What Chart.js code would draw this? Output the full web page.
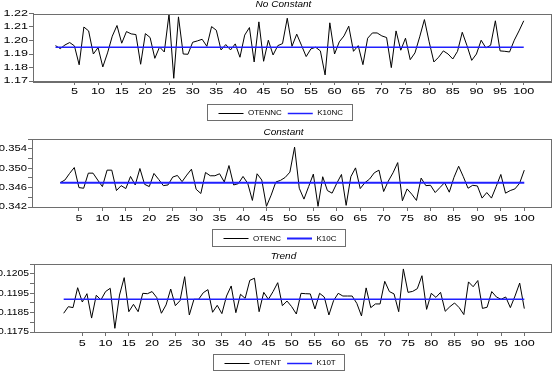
<!DOCTYPE html>
<html>
<head>
<meta charset="utf-8">
<script src="https://cdn.jsdelivr.net/npm/chart.js@4.4.1/dist/chart.umd.min.js"></script>
<style>
  html, body { margin: 0; padding: 0; background: #fff; }
  #wrap { position: relative; width: 553px; height: 371px; overflow: hidden; }
  canvas { position: absolute; left: 0; }
</style>
</head>
<body>
<div id="wrap">
  <canvas id="c1" width="553" height="124" style="top:0"></canvas>
  <canvas id="c2" width="553" height="124" style="top:124px"></canvas>
  <canvas id="c3" width="553" height="123" style="top:248px"></canvas>
</div>
<script>
// observation numbers 1..100
const periods = Array.from({ length: 100 }, (_, i) => i + 1);
const xTicks = [5, 10, 15, 20, 25, 30, 35, 40, 45, 50, 55, 60, 65, 70, 75, 80, 85, 90, 95, 100];

// No Constant
const otennc = [
  1.1962, 1.1940, 1.1967, 1.1985, 1.1960, 1.1820, 1.2100, 1.2071, 1.1900, 1.1948,
  1.1804, 1.1908, 1.2032, 1.2111, 1.1980, 1.2066, 1.2049, 1.2044, 1.1824, 1.2051,
  1.2022, 1.1868, 1.1952, 1.1915, 1.2195, 1.1720, 1.2175, 1.1900, 1.1898, 1.1987,
  1.1997, 1.2009, 1.1957, 1.2103, 1.2076, 1.1930, 1.1970, 1.1930, 1.1975, 1.1876,
  1.2040, 1.2096, 1.1841, 1.2138, 1.1846, 1.2002, 1.1893, 1.1962, 1.1977, 1.2165,
  1.1957, 1.2047, 1.1965, 1.1881, 1.1938, 1.1950, 1.1923, 1.1745, 1.2131, 1.1900,
  1.1990, 1.2034, 1.2106, 1.1920, 1.1962, 1.1821, 1.2017, 1.2056, 1.2056, 1.2034,
  1.2022, 1.1799, 1.2071, 1.1928, 1.2017, 1.1858, 1.1908, 1.2027, 1.2155, 1.1990,
  1.1841, 1.1876, 1.1923, 1.1900, 1.1863, 1.1920, 1.2061, 1.1962, 1.1853, 1.1900,
  1.2002, 1.1945, 1.1965, 1.2146, 1.1923, 1.1920, 1.1915, 1.2002, 1.2071, 1.2146
];
const k10nc = 1.195;
const yTicksNC = [1.17, 1.18, 1.19, 1.20, 1.21, 1.22];
const yLabelsNC = [1.17, 1.18, 1.19, 1.20, 1.21, 1.22];

// Constant
const otenc = [
  0.34703, 0.34758, 0.34894, 0.35016, 0.34601, 0.34588, 0.34900, 0.34900, 0.34758, 0.34622,
  0.34962, 0.34962, 0.34540, 0.34642, 0.34581, 0.34832, 0.34656, 0.34996, 0.34669, 0.34622,
  0.34894, 0.34771, 0.34642, 0.34656, 0.34819, 0.34853, 0.34724, 0.34860, 0.34982, 0.34567,
  0.34479, 0.34914, 0.34846, 0.34846, 0.34887, 0.34717, 0.35057, 0.34656, 0.34683, 0.34832,
  0.34690, 0.34336, 0.34887, 0.34758, 0.34214, 0.34445, 0.34717, 0.34751, 0.34812, 0.34921,
  0.35438, 0.34588, 0.34363, 0.34622, 0.34880, 0.34214, 0.34826, 0.34540, 0.34486, 0.34690,
  0.34873, 0.34234, 0.34826, 0.35009, 0.34581, 0.34703, 0.34778, 0.34907, 0.34962, 0.34520,
  0.34737, 0.34907, 0.35118, 0.34329, 0.34574, 0.34465, 0.34336, 0.34798, 0.34642, 0.34649,
  0.34499, 0.34601, 0.34703, 0.34506, 0.34812, 0.35043, 0.34826, 0.34588, 0.34649, 0.34635,
  0.34384, 0.34499, 0.34384, 0.34622, 0.34873, 0.34486, 0.34540, 0.34574, 0.34690, 0.34962
];
const k10c = 0.34703;
const yTicksC = [0.342, 0.344, 0.346, 0.348, 0.350, 0.352, 0.354, 0.356];
const yLabelsC = [0.342, 0.346, 0.350, 0.354];

// Trend
const otent = [
  0.11847, 0.11881, 0.11876, 0.11979, 0.11905, 0.11948, 0.11822, 0.11940, 0.11916, 0.11959,
  0.11976, 0.11769, 0.11941, 0.12031, 0.11855, 0.11893, 0.11855, 0.11950, 0.11948, 0.11959,
  0.11928, 0.11847, 0.11890, 0.11972, 0.11886, 0.11912, 0.12036, 0.11838, 0.11919, 0.11919,
  0.11953, 0.11969, 0.11852, 0.11888, 0.11845, 0.11936, 0.11988, 0.11850, 0.11945, 0.11924,
  0.12017, 0.12028, 0.11855, 0.11955, 0.11919, 0.11959, 0.12005, 0.11886, 0.11910, 0.11881,
  0.11843, 0.11950, 0.11948, 0.11947, 0.11869, 0.11950, 0.11931, 0.11838, 0.11912, 0.11950,
  0.11936, 0.11936, 0.11936, 0.11898, 0.11833, 0.11978, 0.11876, 0.11895, 0.11895, 0.12012,
  0.11959, 0.11947, 0.11855, 0.12076, 0.11955, 0.11960, 0.11974, 0.12041, 0.11867, 0.11950,
  0.11929, 0.11955, 0.11857, 0.11881, 0.11900, 0.11876, 0.11840, 0.12009, 0.11984, 0.12016,
  0.11872, 0.11878, 0.11959, 0.11931, 0.11919, 0.11931, 0.11876, 0.11936, 0.12003, 0.11871
];
const k10t = 0.11919;
const yTicksT = [0.1175, 0.118, 0.1185, 0.119, 0.1195, 0.12, 0.1205, 0.121];
const yLabelsT = [0.1175, 0.1185, 0.1195, 0.1205];

const AXIS = '#6e6e6e';
const BLUE = '#2020ff';

// text drawn wider than tall, like the original export
function wideText(ctx, txt, x, y, align, sx) {
  ctx.save();
  ctx.translate(x, y);
  ctx.scale(sx, 1);
  ctx.textAlign = align;
  ctx.textBaseline = 'middle';
  ctx.fillText(txt, 0, 0);
  ctx.restore();
}

function makePanel(p) {
  const canvas = document.getElementById(p.id);
  const last = periods.length - 1;

  const frame = {
    id: 'frame' + p.id,
    afterDraw(chart) {
      const ctx = chart.ctx;
      const a = chart.chartArea;
      const xs = chart.scales.x, ys = chart.scales.y;
      ctx.save();
      // box round the plot
      ctx.strokeStyle = AXIS;
      ctx.lineWidth = 1;
      ctx.strokeRect(Math.round(a.left) + 0.5, Math.round(a.top) + 0.5,
                     Math.round(a.right - a.left) - 1, Math.round(a.bottom - a.top));

      ctx.fillStyle = '#000';
      ctx.font = '9px "Liberation Sans", Arial, sans-serif';
      p.yLabels.forEach(v => {
        wideText(ctx, v.toFixed(p.dec), a.left - 5, ys.getPixelForValue(v), 'right', p.ySx);
      });
      xTicks.forEach(v => {
        wideText(ctx, String(v), xs.getPixelForValue(v), p.labelY, 'center', 1.4);
      });

      // title
      ctx.font = 'italic 8.5px "Liberation Sans", Arial, sans-serif';
      wideText(ctx, p.title, 283.5, p.titleY, 'center', 1.18);

      // legend
      ctx.font = '8px "Liberation Sans", Arial, sans-serif';
      const ds = chart.data.datasets;
      const padL = 11, sample = 25, gap = 4.5, between = 6, padR = 9;
      let w = padL + padR;
      ds.forEach((d, i) => { w += sample + gap + ctx.measureText(d.label).width + (i ? between : 0); });
      const x0 = Math.round(279 - w / 2) + 0.5;
      const top = Math.round(p.legTop) + 0.5;
      const h = Math.round(p.legBottom - p.legTop);
      ctx.fillStyle = '#fff';
      ctx.fillRect(x0, top, Math.round(w), h);
      ctx.strokeStyle = AXIS;
      ctx.strokeRect(x0, top, Math.round(w), h);
      const cy = top + h / 2;
      let cx = x0 + padL;
      ds.forEach((d, i) => {
        if (i) cx += between;
        ctx.strokeStyle = d.borderColor;
        ctx.lineWidth = d.borderWidth;
        ctx.beginPath();
        ctx.moveTo(cx, Math.round(cy) + 0.5);
        ctx.lineTo(cx + sample, Math.round(cy) + 0.5);
        ctx.stroke();
        cx += sample + gap;
        ctx.fillStyle = '#000';
        ctx.textAlign = 'left';
        ctx.textBaseline = 'middle';
        ctx.fillText(d.label, cx, cy + 0.5);
        cx += ctx.measureText(d.label).width;
      });
      ctx.restore();
    }
  };

  return new Chart(canvas, {
    type: 'line',
    data: {
      datasets: [
        {
          label: p.names[0],
          data: p.values.map((v, i) => ({ x: periods[i], y: v })),
          borderColor: '#000',
          borderWidth: 1,
          pointRadius: 0,
          tension: 0,
          order: 1
        },
        {
          label: p.names[1],
          data: [{ x: periods[0], y: p.level }, { x: periods[last], y: p.level }],
          borderColor: BLUE,
          borderWidth: p.blueWidth,
          pointRadius: 0,
          order: 0
        }
      ]
    },
    options: {
      responsive: false,
      animation: false,
      events: [],
      layout: {
        padding: { top: p.top, bottom: canvas.height - p.bottom, left: 0, right: canvas.width - p.right }
      },
      plugins: {
        legend: { display: false },
        tooltip: { enabled: false },
        title: { display: false }
      },
      scales: {
        x: {
          type: 'linear',
          min: p.xMin,
          max: p.xMax,
          afterBuildTicks: s => { s.ticks = xTicks.map(v => ({ value: v })); },
          afterFit: s => { s.height = 0; },
          ticks: { display: false },
          grid: { drawOnChartArea: false, drawTicks: true, tickLength: 4, color: AXIS },
          border: { color: AXIS, width: 1 }
        },
        y: {
          type: 'linear',
          min: p.yTicks[0],
          max: p.yTicks[p.yTicks.length - 1],
          afterBuildTicks: s => { s.ticks = p.yTicks.map(v => ({ value: v })); },
          afterFit: s => { s.width = p.left; },
          ticks: { display: false },
          grid: { drawOnChartArea: false, drawTicks: true, tickLength: 4, color: AXIS },
          border: { color: AXIS, width: 1 }
        }
      }
    },
    plugins: [frame]
  });
}

makePanel({
  id: 'c1', title: 'No Constant', names: ['OTENNC', 'K10NC'],
  values: otennc, level: k10nc, yTicks: yTicksNC, yLabels: yLabelsNC, dec: 2, ySx: 1.4,
  left: 33, right: 551.5, top: 13.5, bottom: 81, xMin: -3.76, xMax: 105.87,
  titleY: 5, labelY: 91.3, legTop: 103.5, legBottom: 119.5, blueWidth: 1.5
});
makePanel({
  id: 'c2', title: 'Constant', names: ['OTENC', 'K10C'],
  values: otenc, level: k10c, yTicks: yTicksC, yLabels: yLabelsC, dec: 3, ySx: 1.25,
  left: 32, right: 551.5, top: 15.3, bottom: 83, xMin: -5.02, xMax: 105.81,
  titleY: 8.2, labelY: 94.7, legTop: 104.7, legBottom: 121.3, blueWidth: 2
});
makePanel({
  id: 'c3', title: 'Trend', names: ['OTENT', 'K10T'],
  values: otent, level: k10t, yTicks: yTicksT, yLabels: yLabelsT, dec: 4, ySx: 1.15,
  left: 34, right: 551.5, top: 16.3, bottom: 84, xMin: -5.38, xMax: 105.84,
  titleY: 8.7, labelY: 95.3, legTop: 106.3, legBottom: 122.5, blueWidth: 1.5
});
</script>
</body>
</html>
